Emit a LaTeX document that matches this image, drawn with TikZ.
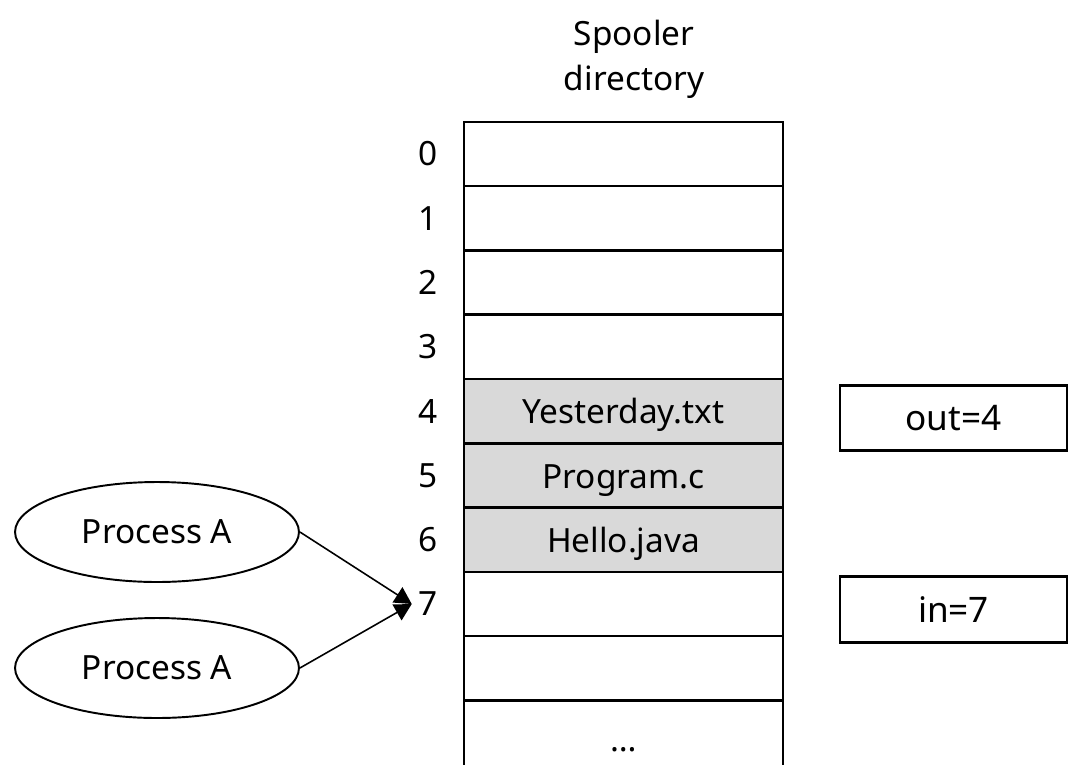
\documentclass[tikz,border=0pt]{standalone}
\usepackage{fontspec}
\setmainfont{Noto Sans}
\usetikzlibrary{positioning,shapes.geometric,arrows.meta}

\definecolor{cellgray}{HTML}{D9D9D9}

\begin{document}
\begin{tikzpicture}
  [x=0.02cm, y=-0.02cm, font=\fontsize{19}{25.6}\selectfont,
   cell/.style={draw, line width=1.5pt, outer sep=0pt, minimum width=6.38cm, minimum height=1.286cm,
                text height=17pt, text depth=2.6pt},
   idx/.style={inner sep=0pt},
   proc/.style={ellipse, draw, line width=1.1pt, minimum width=5.68cm, minimum height=2cm},
   ptr/.style={draw, line width=1.5pt, minimum width=4.54cm, minimum height=1.31cm, font=\fontsize{20}{24}\selectfont}]

\useasboundingbox (0,0) rectangle (1084,778);

%%%  nodes

% title
\node [align=center] (title) at (634,59) {Spooler\\directory};

% directory slots
\node [cell] (c0) at (623.5,154) {};
\node [cell, below=0pt of c0] (c1) {};
\node [cell, below=0pt of c1] (c2) {};
\node [cell, below=0pt of c2] (c3) {};
\node [cell, fill=cellgray, below=0pt of c3] (c4) {Yesterday.txt};
\node [cell, fill=cellgray, below=0pt of c4] (c5) {Program.c};
\node [cell, fill=cellgray, below=0pt of c5] (c6) {Hello.java};
\node [cell, below=0pt of c6] (c7) {};
\node [cell, below=0pt of c7] (c8) {};
% open slot at the bottom
\node [cell, draw=none, below=0pt of c8, text height=21pt, text depth=0pt] (c9) {…};

% slot numbers
\node [idx, left=0.53cm of c0] (l0) {0};
\node [idx, left=0.53cm of c1] (l1) {1};
\node [idx, left=0.53cm of c2] (l2) {2};
\node [idx, left=0.53cm of c3] (l3) {3};
\node [idx, left=0.53cm of c4] (l4) {4};
\node [idx, left=0.53cm of c5] (l5) {5};
\node [idx, left=0.53cm of c6] (l6) {6};
\node [idx, left=0.53cm of c7] (l7) {7};

% shared variables
\node [ptr] (out) at (953.5,418) {out=4};
\node [ptr] (in) at (953.5,609.5) {in=7};

% processes
\node [proc] (pa1) at (157,532) {Process A};
\node [proc] (pa2) at (157,668) {Process A};
\coordinate [left=0.12cm of l7.west] (t7);

%%%  edges

\draw [line width=1.5pt] (c9.north west) -- (c9.south west);
\draw [line width=1.5pt] (c9.north east) -- (c9.south east);

\draw [line width=0.9pt, -{Triangle[length=0.34cm, width=0.36cm]}] (pa1.east) to (t7);
\draw [line width=0.9pt, -{Triangle[length=0.34cm, width=0.36cm]}] (pa2.east) to (t7);

\end{tikzpicture}
\end{document}
